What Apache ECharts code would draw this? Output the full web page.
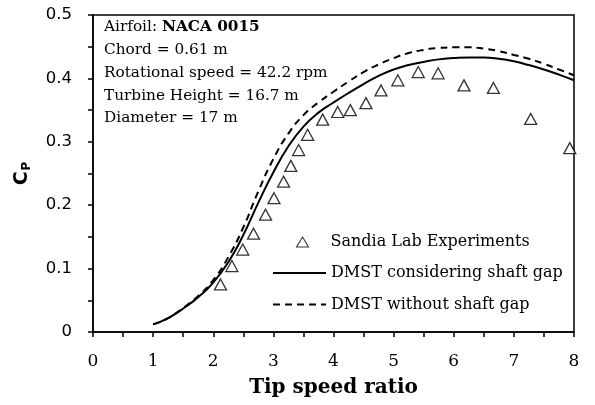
<!DOCTYPE html>
<html>
<head>
<meta charset="utf-8">
<script src="https://cdn.jsdelivr.net/npm/echarts@6/dist/echarts.min.js"></script>
<style>
  html, body { margin: 0; padding: 0; background: #fff; }
  #chart { width: 595px; height: 405px; }
</style>
</head>
<body>
<div id="chart"></div>
<script>
// Sandia Lab experiments (tip speed ratio, Cp)
const expTsr = [2.12, 2.31, 2.49, 2.67, 2.87, 3.01, 3.17, 3.29, 3.42, 3.57, 3.82,
  4.07, 4.28, 4.54, 4.79, 5.07, 5.41, 5.74, 6.17, 6.66, 7.28, 7.93];
const expCp = [0.075, 0.104, 0.130, 0.155, 0.185, 0.211, 0.237, 0.262, 0.287, 0.311, 0.335,
  0.347, 0.350, 0.361, 0.381, 0.397, 0.410, 0.408, 0.389, 0.385, 0.336, 0.290];

// DMST curves, sampled every 0.25 from TSR 1 to 8
const dmstTsr = [1, 1.25, 1.5, 1.75, 2, 2.25, 2.5, 2.75, 3, 3.25, 3.5, 3.75, 4, 4.25, 4.5,
  4.75, 5, 5.25, 5.5, 5.75, 6, 6.25, 6.5, 6.75, 7, 7.25, 7.5, 7.75, 8];
const cpShaftGap = [0.012, 0.022, 0.037, 0.055, 0.078, 0.110, 0.153, 0.204, 0.252, 0.293,
  0.324, 0.346, 0.362, 0.377, 0.391, 0.404, 0.414, 0.421, 0.426, 0.430, 0.432, 0.433,
  0.433, 0.431, 0.427, 0.421, 0.414, 0.406, 0.397];
const cpNoShaftGap = [0.012, 0.022, 0.038, 0.057, 0.082, 0.118, 0.165, 0.222, 0.273, 0.313,
  0.342, 0.362, 0.379, 0.395, 0.410, 0.422, 0.432, 0.440, 0.445, 0.448, 0.449, 0.449,
  0.447, 0.443, 0.437, 0.431, 0.423, 0.414, 0.405];

const seriesNames = ["Sandia Lab Experiments", "DMST considering shaft gap", "DMST without shaft gap"];
const infoLines = ["Chord = 0.61 m", "Rotational speed = 42.2 rpm", "Turbine Height = 16.7 m", "Diameter = 17 m"];

const pairs = (xs, ys) => xs.map((x, i) => [x, ys[i]]);
const serif = "DejaVu Serif";

const chart = echarts.init(document.getElementById("chart"));
chart.setOption({
  animation: false,
  backgroundColor: "#fff",
  grid: {
    left: 93,
    right: 21,
    top: 15,
    bottom: 73,
    show: true,
    borderColor: "#000",
    borderWidth: 1.5,
    backgroundColor: "transparent"
  },
  xAxis: {
    type: "value",
    min: 0,
    max: 8,
    interval: 0.5,
    name: "Tip speed ratio",
    nameLocation: "middle",
    nameGap: 46,
    nameTextStyle: { fontFamily: serif, fontWeight: "bold", fontSize: 20, color: "#000" },
    axisLine: { lineStyle: { color: "#000", width: 1.5 } },
    axisTick: { length: 5, lineStyle: { color: "#000", width: 1.5 } },
    axisLabel: {
      margin: 21,
      fontFamily: serif,
      fontSize: 17,
      color: "#000",
      formatter: v => (Math.abs(v - Math.round(v)) < 1e-6 ? String(Math.round(v)) : "")
    },
    splitLine: { show: false }
  },
  yAxis: {
    type: "value",
    min: 0,
    max: 0.5,
    interval: 0.05,
    name: "{c|C}{p|P}",
    nameLocation: "middle",
    nameRotate: 90,
    nameGap: 60,
    nameTextStyle: {
      rich: {
        c: { fontFamily: "DejaVu Sans", fontWeight: "bold", fontSize: 19, color: "#000" },
        p: { fontFamily: "DejaVu Sans", fontWeight: "bold", fontSize: 12, color: "#000", verticalAlign: "bottom", padding: [9, 0, 0, 1] }
      }
    },
    axisLine: { show: true, lineStyle: { color: "#000", width: 1.5 } },
    axisTick: { show: true, length: 5, lineStyle: { color: "#000", width: 1.5 } },
    axisLabel: {
      margin: 21,
      fontFamily: "DejaVu Sans",
      fontSize: 16.5,
      color: "#000",
      formatter: v => {
        const t = Math.round(v * 10);
        if (Math.abs(v * 10 - t) > 1e-6) return "";
        return t === 0 ? "0" : (t / 10).toFixed(1);
      }
    },
    splitLine: { show: false }
  },
  legend: [
    {
      data: [seriesNames[0]],
      left: 296,
      top: 232,
      padding: 0,
      orient: "vertical",
      itemWidth: 12,
      itemHeight: 10,
      itemStyle: { color: "#fff", borderColor: "#000", borderWidth: 1.1 },
      textStyle: { fontFamily: serif, fontSize: 16, color: "#000", lineHeight: 20, padding: [0, 0, 0, 17] }
    },
    {
      data: [seriesNames[1], seriesNames[2]],
      left: 272,
      top: 263,
      padding: 0,
      orient: "vertical",
      itemWidth: 53,
      itemHeight: 14,
      itemGap: 11.5,
      itemStyle: { color: "transparent", borderColor: "transparent", borderWidth: 0 },
      textStyle: { fontFamily: serif, fontSize: 16, color: "#000", lineHeight: 20 }
    }
  ],
  graphic: [
    {
      type: "text",
      left: 104,
      top: 20,
      style: {
        text: "{n|Airfoil: }{b|NACA 0015}\n" + infoLines.map(s => "{n|" + s + "}").join("\n"),
        rich: {
          n: { fontFamily: serif, fontSize: 15.3, lineHeight: 22.7, fill: "#000" },
          b: { fontFamily: serif, fontSize: 15.3, fontWeight: "bold", lineHeight: 22.7, fill: "#000" }
        }
      }
    }
  ],
  series: [
    {
      name: seriesNames[0],
      type: "scatter",
      symbol: "triangle",
      symbolSize: [12, 11],
      itemStyle: { color: "#fff", borderColor: "#000", borderWidth: 1.3 },
      data: pairs(expTsr, expCp),
      z: 3
    },
    {
      name: seriesNames[1],
      type: "line",
      smooth: true,
      symbol: "none",
      lineStyle: { color: "#000", width: 2 },
      itemStyle: { color: "#000" },
      data: pairs(dmstTsr, cpShaftGap),
      z: 2
    },
    {
      name: seriesNames[2],
      type: "line",
      smooth: true,
      symbol: "none",
      lineStyle: { color: "#000", width: 2, type: [7, 5] },
      itemStyle: { color: "#000" },
      data: pairs(dmstTsr, cpNoShaftGap),
      z: 2
    }
  ]
});
</script>
</body>
</html>
